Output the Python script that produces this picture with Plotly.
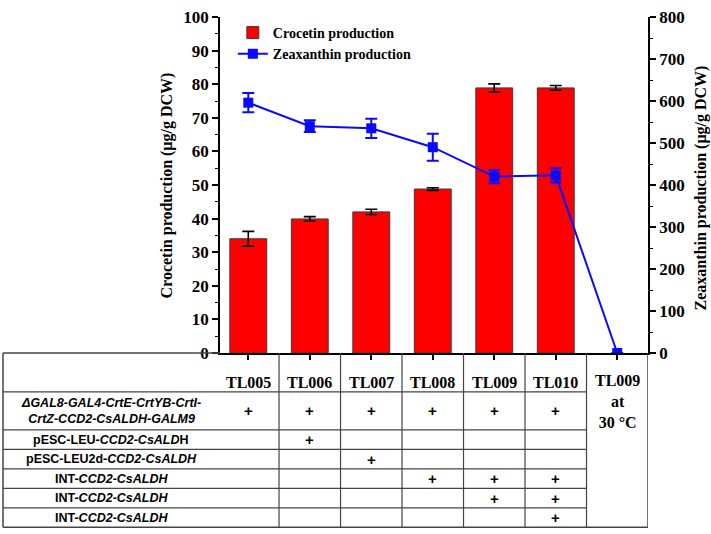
import plotly.graph_objects as go

# ---------------- data ----------------
strains = ["TL005", "TL006", "TL007", "TL008", "TL009", "TL010", "TL009 30C"]
strain_labels = ["TL005", "TL006", "TL007", "TL008", "TL009", "TL010", "TL009<br>at<br>30 °C"]

crocetin = [34.0, 39.9, 42.0, 48.8, 78.9, 78.9, None]
crocetin_err = [2.2, 0.7, 0.8, 0.4, 1.2, 0.7, None]

zeaxanthin = [596, 540, 535, 490, 420, 423, 0]
zeaxanthin_err = [23, 14, 23, 32, 16, 17, 0]

row_labels = [
    "<i>ΔGAL8-GAL4-CrtE-CrtYB-CrtI-<br>CrtZ-CCD2-CsALDH-GALM9</i>",
    "pESC-LEU-<i>CCD2-CsALD</i>H",
    "pESC-LEU2d-<i>CCD2-CsALDH</i>",
    "INT-<i>CCD2-CsALDH</i>",
    "INT-<i>CCD2-CsALDH</i>",
    "INT-<i>CCD2-CsALDH</i>",
]
# presence matrix: rows = constructs, columns = first six strains
plus_matrix = [
    [1, 1, 1, 1, 1, 1],
    [0, 1, 0, 0, 0, 0],
    [0, 0, 1, 0, 0, 0],
    [0, 0, 0, 1, 1, 1],
    [0, 0, 0, 0, 1, 1],
    [0, 0, 0, 0, 0, 1],
]

# ---------------- layout geometry (pixels) ----------------
W, H = 711, 534
L, R, T, B = 220, 63, 8, 181
PW = W - L - R
PH = H - T - B
AX_BOTTOM = T + PH
XR = [-0.46, 6.5]


def px2x(px):
    return (px - L) / PW


def py2y(py):
    return (AX_BOTTOM - py) / PH


serif = "Liberation Serif"
sans = "Liberation Sans"
line_col = "#444444"

fig = go.Figure()

fig.add_trace(go.Bar(
    x=strains, y=crocetin, name="Crocetin production",
    marker=dict(color="#FF0000", line=dict(color="#3a3a3a", width=1)),
    width=0.6,
    error_y=dict(type="data", array=crocetin_err, color="black", thickness=1.6, width=6),
    yaxis="y",
))

fig.add_trace(go.Scatter(
    x=strains, y=zeaxanthin, name="Zeaxanthin production",
    mode="lines+markers",
    line=dict(color="#0a0aff", width=2),
    marker=dict(symbol="square", size=10, color="#0a0aff"),
    error_y=dict(type="data", array=zeaxanthin_err, color="#0a0aff", thickness=2, width=6),
    yaxis="y2",
))

tickfont = dict(family=serif, size=17, color="black", weight="bold")

fig.update_layout(
    width=W, height=H,
    margin=dict(l=L, r=R, t=T, b=B),
    plot_bgcolor="white", paper_bgcolor="white",
    showlegend=True,
    legend=dict(x=0.03, y=1.0, xanchor="left", yanchor="top",
                bgcolor="rgba(0,0,0,0)",
                font=dict(family=serif, size=14, color="black", weight="bold"),
                itemwidth=30, tracegroupgap=2),
    xaxis=dict(
        type="category", categoryorder="array", categoryarray=strains,
        range=XR, showline=True, linecolor="black", linewidth=1.5,
        ticks="outside", ticklen=5, tickwidth=1.5, tickcolor="black",
        showticklabels=False, showgrid=False, zeroline=False,
    ),
    yaxis=dict(
        range=[0, 100], dtick=10, showline=True, linecolor="black", linewidth=1.5,
        ticks="outside", ticklen=6, tickwidth=1.5, tickcolor="black",
        minor=dict(ticks="outside", ticklen=3, dtick=5, tickcolor="black", tickwidth=1.2),
        tickfont=tickfont, showgrid=False, zeroline=False, ticklabeloverflow="allow",
    ),
    yaxis2=dict(
        range=[0, 800], dtick=100, overlaying="y", side="right",
        showline=True, linecolor="black", linewidth=1.5,
        ticks="outside", ticklen=6, tickwidth=1.5, tickcolor="black",
        minor=dict(ticks="outside", ticklen=3, dtick=50, tickcolor="black", tickwidth=1.2),
        tickfont=tickfont, showgrid=False, zeroline=False, ticklabeloverflow="allow",
    ),
    bargap=0.4,
)

annotations = []
# axis titles
annotations.append(dict(
    text="Crocetin production (μg/g DCW)", textangle=-90,
    x=px2x(167), y=py2y(181), xref="paper", yref="paper",
    xanchor="center", yanchor="middle", showarrow=False,
    font=dict(family=serif, size=16, color="black", weight="bold"),
))
annotations.append(dict(
    text="Zeaxanthin production (μg/g DCW)", textangle=-90,
    x=px2x(701), y=py2y(184), xref="paper", yref="paper",
    xanchor="center", yanchor="middle", showarrow=False,
    font=dict(family=serif, size=16, color="black", weight="bold"),
))

# ---------------- table ----------------
TABLE_LEFT = 3
row_edges = [353, 393, 432, 452, 472, 492, 512, 532]
n_cols = len(strains)
last_col_left = px2x(L + (n_cols - 1.5 - XR[0]) * PW / (XR[1] - XR[0]))

shapes = []
for i, yy in enumerate(row_edges):
    if i == 0:
        x1, w = 0, 1.5
    elif i == len(row_edges) - 1:
        x1, w = 1, 1.5
    else:
        x1, w = last_col_left, 1.2
    shapes.append(dict(type="line", xref="paper", yref="paper",
                       x0=px2x(TABLE_LEFT), x1=x1, y0=py2y(yy), y1=py2y(yy),
                       line=dict(color=line_col, width=w)))
shapes.append(dict(type="line", xref="paper", yref="paper",
                   x0=px2x(TABLE_LEFT), x1=px2x(TABLE_LEFT),
                   y0=py2y(row_edges[0]), y1=py2y(row_edges[-1]),
                   line=dict(color=line_col, width=1.5)))
for c in range(n_cols + 1):
    xv = c - 0.5
    shapes.append(dict(type="line", xref="x", yref="paper",
                       x0=xv, x1=xv, y0=py2y(row_edges[0]), y1=py2y(row_edges[-1]),
                       line=dict(color=line_col, width=1.2 if c < n_cols else 1.5)))

# header labels
for c, lab in enumerate(strain_labels):
    yc = 383 if c < n_cols - 1 else 403
    annotations.append(dict(text=lab, x=strains[c], xref="x",
                            y=py2y(yc), yref="paper", showarrow=False,
                            xanchor="center", yanchor="middle",
                            font=dict(family=serif, size=16, color="black", weight="bold")))

# row labels and plus signs
label_center_x = px2x((TABLE_LEFT + 219) / 2)
for r, lab in enumerate(row_labels):
    yc = (row_edges[r + 1] + row_edges[r + 2]) / 2
    annotations.append(dict(text=lab, x=label_center_x, xref="paper",
                            y=py2y(yc), yref="paper", showarrow=False,
                            xanchor="center", yanchor="middle",
                            font=dict(family=sans, size=12.5, color="black", weight="bold")))
    for c, flag in enumerate(plus_matrix[r]):
        if flag:
            annotations.append(dict(text="+", x=strains[c], xref="x",
                                    y=py2y(yc), yref="paper", showarrow=False,
                                    xanchor="center", yanchor="middle",
                                    font=dict(family=sans, size=15, color="black", weight="bold")))

fig.update_layout(shapes=shapes, annotations=annotations)

fig.write_html("out.html",
               config={"displayModeBar": False},
               post_script="document.body.style.margin='0';document.body.style.overflow='hidden';")
